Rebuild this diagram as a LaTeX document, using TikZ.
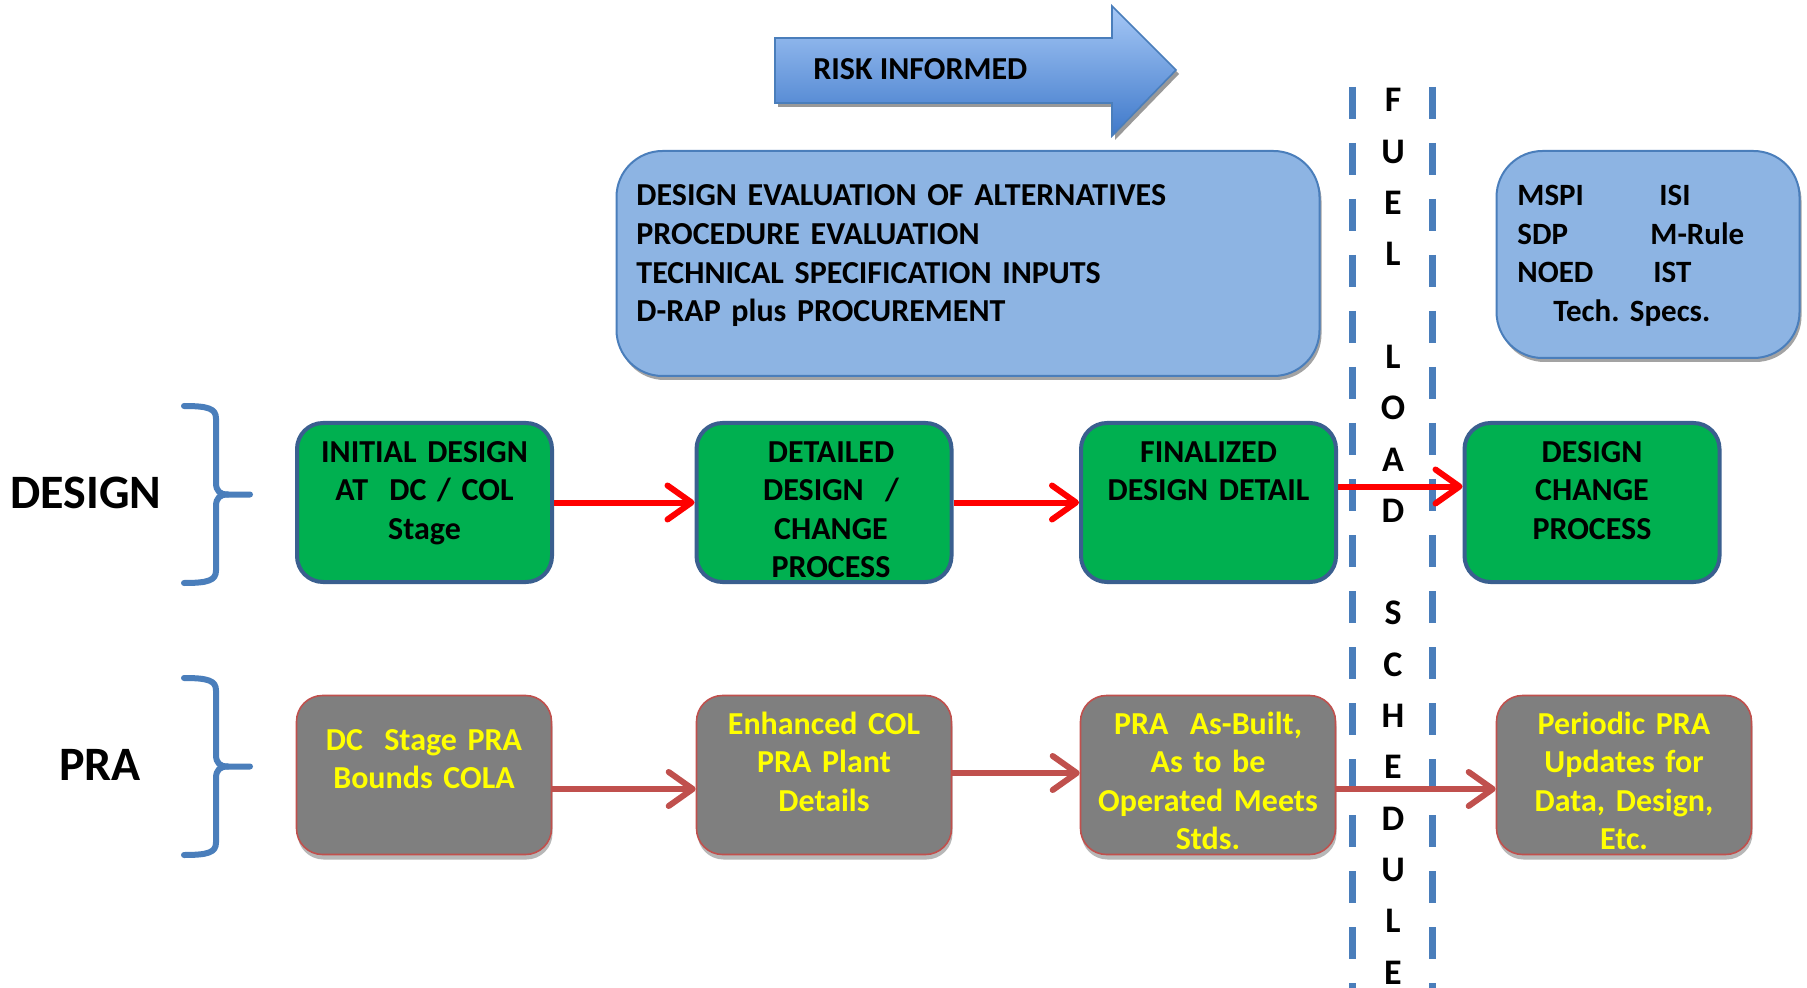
\documentclass[tikz,border=0pt]{standalone}
\usepackage{fontspec}
\setmainfont{Carlito}
\usetikzlibrary{arrows.meta,shadows}
\frenchspacing

\definecolor{acc}{HTML}{4A7EBB}
\definecolor{lightacc}{HTML}{8DB4E3}
\definecolor{greenfill}{HTML}{00B050}
\definecolor{greenedge}{HTML}{3A5F8F}
\definecolor{grayfill}{HTML}{7F7F7F}
\definecolor{rededge}{HTML}{C0504D}
\definecolor{risktop}{HTML}{A6C8F6}
\definecolor{riskbot}{HTML}{3F79CA}
\definecolor{textyellow}{HTML}{FFFF00}

\begin{document}
\begin{tikzpicture}[x=0.5pt,y=-0.5pt,
  bodyfont/.style={font=\fontsize{16pt}{19.3pt}\selectfont\bfseries},
  labelfont/.style={font=\fontsize{24pt}{28pt}\selectfont\bfseries},
  infobox/.style={draw=acc, line width=1pt, fill=lightacc, rounded corners=23pt,
    inner sep=0pt,
    drop shadow={shadow xshift=1pt, shadow yshift=-2pt, fill=black!45, opacity=0.8}},
  stagebox/.style={draw=greenedge, line width=2pt, fill=greenfill, rounded corners=13pt,
    minimum width=127.5pt, minimum height=79.5pt, inner sep=0pt},
  prabox/.style={draw=rededge, line width=0.8pt, fill=grayfill, rounded corners=13pt,
    minimum width=127.5pt, minimum height=79.5pt, inner sep=0pt,
    drop shadow={shadow xshift=0.5pt, shadow yshift=-2.5pt, fill=black!35, opacity=0.8}},
  stagetext/.style={bodyfont, inner sep=0pt, text width=125pt, align=center, anchor=base},
  pratext/.style={stagetext, text=textyellow},
  designflow/.style={draw=red, line width=3pt, -{Straight Barb[length=12pt,width=17pt,round]}},
  praflow/.style={draw=rededge, line width=3pt, -{Straight Barb[length=12pt,width=17pt,round]}},
  fuelline/.style={draw=acc, line width=3.5pt, dash pattern=on 16pt off 12pt},
  bracepath/.style={draw=acc, line width=3pt, line cap=round, line join=round}
]
\useasboundingbox (0,0) rectangle (1807,988);
\fill[white] (0,0) rectangle (1807,988);

% ---- risk-informed banner arrow ----
\fill[black!40, xshift=1.5pt, yshift=-2pt]
  (775,38) -- (1112,38) -- (1112,6) -- (1176,70) -- (1112,136) -- (1112,103) -- (775,103) -- cycle;
\draw[acc, line width=0.8pt, top color=risktop, bottom color=riskbot]
  (775,38) -- (1112,38) -- (1112,6) -- (1176,70) -- (1112,136) -- (1112,103) -- (775,103) -- cycle;
\node[bodyfont, anchor=base west, inner sep=0pt] (risk) at (813,80) {RISK INFORMED};

% ---- information boxes ----
\node[infobox, minimum width=351.5pt, minimum height=112.5pt] (eval) at (968,263.5) {};
\node[bodyfont, anchor=base west, inner sep=0pt, text width=320pt, align=left] (evaltext) at (636,206)
  {DESIGN EVALUATION OF ALTERNATIVES\\PROCEDURE EVALUATION\\TECHNICAL SPECIFICATION INPUTS\\D-RAP plus PROCUREMENT};

\node[infobox, minimum width=151.5pt, minimum height=103.5pt] (kpi) at (1648,254.5) {};
\node[font=\fontsize{15.5pt}{19.25pt}\selectfont\bfseries, anchor=base west, inner sep=0pt,
  text width=140pt, align=left] (kpitext) at (1517,206)
  {\makebox[71pt][l]{MSPI}ISI\\\makebox[66.5pt][l]{SDP}M-Rule\\\makebox[68pt][l]{NOED}IST\\\hspace*{18pt}Tech. Specs.};

% ---- fuel load schedule divider ----
\draw[fuelline] (1352,87) -- (1352,988);
\draw[fuelline] (1432,87) -- (1432,988);
\node[font=\fontsize{18pt}{25.65pt}\selectfont\bfseries, inner sep=0pt, text width=30pt,
  align=center, anchor=base] (fuel) at (1393,112)
  {F\\U\\E\\L\\\mbox{}\\L\\O\\A\\D\\\mbox{}\\S\\C\\H\\E\\D\\U\\L\\E};

% ---- row labels and braces ----
\node[labelfont, inner sep=0pt] (designlabel) at (86,493) {DESIGN};
\node[labelfont, inner sep=0pt] (pralabel) at (100,765) {PRA};
\foreach \cy in {494.5,766.5}{
  \begin{scope}[shift={(0,\cy)}]
    \draw[bracepath] (184,-88.5) .. controls (208,-88.5) and (216,-86) .. (216,-76)
      -- (216,-12) .. controls (216,-3) and (220,0) .. (228,0) -- (250,0);
    \draw[bracepath] (228,0) .. controls (220,0) and (216,3) .. (216,12)
      -- (216,76) .. controls (216,86) and (208,88.5) .. (184,88.5);
  \end{scope}
}

% ---- design stages ----
\node[stagebox] (g1) at (424.5,502.5) {};
\node[stagebox] (g2) at (824,502.5) {};
\node[stagebox] (g3) at (1208.5,502.5) {};
\node[stagebox] (g4) at (1592,502.5) {};
\node[stagetext] (g1t) at (424.5,462) {INITIAL DESIGN\\AT\ \ DC / COL\\Stage};
\node[stagetext] (g2t) at (831,462) {DETAILED\\DESIGN\ \ /\\CHANGE\\PROCESS};
\node[stagetext] (g3t) at (1208.5,462) {FINALIZED\\DESIGN DETAIL};
\node[stagetext] (g4t) at (1592,462) {DESIGN\\CHANGE\\PROCESS};

\draw[designflow] (g1.east) -- (g2.west);
\draw[designflow] (g2.east) -- (g3.west);
\draw[designflow] ([yshift=8pt]g3.east) -- ([yshift=8pt]g4.west);

% ---- PRA stages ----
\node[prabox] (p1) at (424,775) {};
\node[prabox] (p2) at (824,775) {};
\node[prabox] (p3) at (1208,775) {};
\node[prabox] (p4) at (1624,775) {};
\node[pratext] (p1t) at (424,750) {DC\ \ Stage PRA\\Bounds COLA};
\node[pratext] (p2t) at (824,734) {Enhanced COL\\PRA Plant\\Details};
\node[pratext] (p3t) at (1208,734) {PRA\ \ As-Built,\\As to be\\Operated Meets\\Stds.};
\node[pratext] (p4t) at (1624,734) {Periodic PRA\\Updates for\\Data, Design,\\Etc.};

\draw[praflow] ([yshift=-7pt]p1.east) -- ([yshift=-7pt]p2.west);
\draw[praflow] ([yshift=1pt]p2.east) -- ([yshift=1pt]p3.west);
\draw[praflow] ([yshift=-7pt]p3.east) -- ([yshift=-7pt]p4.west);
\end{tikzpicture}
\end{document}
